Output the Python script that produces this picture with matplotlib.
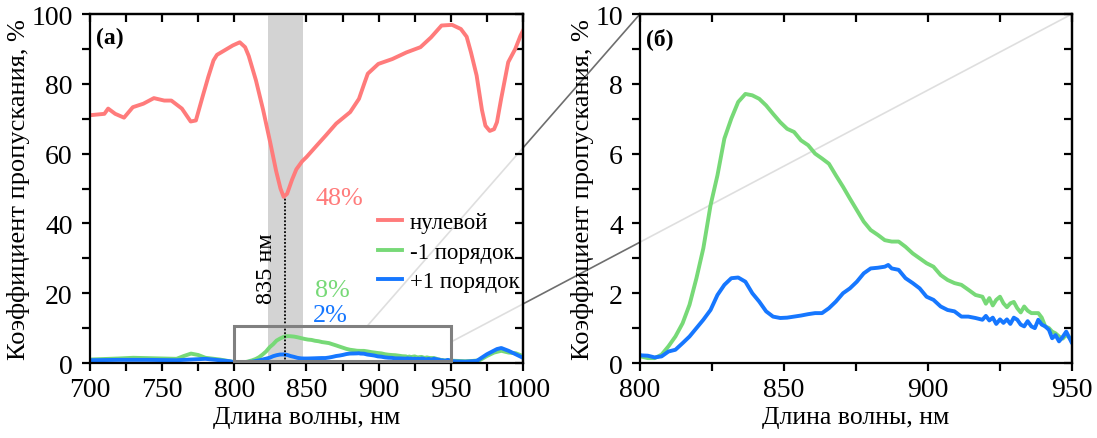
import matplotlib
matplotlib.use("Agg")
import matplotlib.pyplot as plt
from matplotlib.patches import Rectangle, ConnectionPatch
from matplotlib.ticker import MultipleLocator

plt.rcParams['font.family'] = ['Liberation Serif', 'DejaVu Serif']
plt.rcParams['mathtext.fontset'] = 'stix'

# ---------------- data ----------------
# zero order (нулевой)
wl_zero = [700, 705, 710, 712.6, 717.5, 723.6, 729.7, 737, 744.3, 751.5, 756.4, 763.7, 769.8,
           773.4, 778.3, 782, 785.6, 788, 792.9, 799, 803.8, 807.5, 810, 815, 820, 825, 829,
           832, 834.2, 836.6, 840, 843, 847, 850, 857.3, 863.4, 870.6, 880.3, 886.4, 890,
           892.5, 899.8, 909.5, 919.3, 929, 936.3, 943.6, 950.9, 957, 961, 964, 967.9, 971.6,
           974, 977, 980, 982, 984.9, 989.8, 994.7, 998.3, 1000]
t_zero = [71, 71.2, 71.4, 72.9, 71.4, 70.3, 73.3, 74.3, 75.9, 75.2, 75.2, 72.9, 69.2,
          69.5, 76.7, 82, 86.7, 88.3, 89.5, 91, 91.9, 90.5, 88, 81, 72.5, 63, 55,
          50, 47.6, 48.5, 52.5, 55.5, 57.8, 59, 62.4, 65.2, 68.6, 71.9, 75.7, 80,
          82.9, 85.7, 87.1, 89, 90.5, 93.3, 96.7, 96.9, 95.7, 93.5, 89, 82.4, 72.5,
          68, 66.5, 67, 69, 75.7, 86.2, 90, 93.8, 95.2]

# -1 order
wl_m1 = [700, 720, 730, 750, 760, 765, 770, 775, 780, 790, 797,
         800.2, 802.7, 805.1, 807.5, 809.9, 812.3, 814.8, 817.2, 819.6, 822, 824.5, 826.9,
         829.3, 831.7, 834.1, 836.6, 839, 841.4, 843.8, 846.2, 848.7, 851.1, 853.5, 855.9,
         858.4, 860.8, 863.2, 865.6, 868, 870.5, 872.9, 875.3, 877.7, 880.1, 882.6, 885,
         887.4, 889.8, 892.2, 894.7, 897.1, 899.5, 901.9, 904.4, 906.8, 909.2, 911.6, 914,
         916.5, 918.9, 920.1, 921.3, 922.5, 923.7, 925, 926.2, 927.4, 928.6, 929.8, 931,
         932.2, 933.4, 934.6, 935.9, 938.3, 939.5, 940.7, 942, 943.1, 944.3, 945.5, 946.8,
         948, 950, 955, 960, 965, 970, 975, 980, 985, 990, 995, 1000]
t_m1 = [1.0, 1.3, 1.5, 1.3, 1.2, 2.0, 2.7, 2.3, 1.5, 1.0, 0.5,
        0.19, 0.14, 0.14, 0.24, 0.48, 0.76, 1.14, 1.67, 2.43, 3.29, 4.52, 5.38,
        6.43, 7.0, 7.48, 7.71, 7.67, 7.57, 7.38, 7.14, 6.9, 6.71, 6.62, 6.38,
        6.24, 6.0, 5.86, 5.71, 5.38, 5.05, 4.71, 4.38, 4.05, 3.81, 3.67, 3.52,
        3.48, 3.48, 3.33, 3.14, 3.0, 2.86, 2.76, 2.52, 2.38, 2.29, 2.24, 2.1,
        1.95, 1.9, 1.7, 1.86, 1.65, 1.81, 1.9, 1.71, 1.6, 1.71, 1.75, 1.57,
        1.45, 1.62, 1.5, 1.43, 1.43, 1.3, 1.05, 1.0, 0.9, 0.85, 0.76, 0.7,
        0.81, 0.67, 0.6, 0.5, 0.6, 0.8, 2.0, 3.0, 3.5, 3.0, 2.8, 2.0]

# +1 order
wl_p1 = [700, 720, 740, 760, 770, 780, 790, 797,
         800.2, 802.7, 805.1, 807.5, 809.9, 812.3, 814.8, 817.2, 819.6, 822, 824.5, 826.9,
         829.3, 831.7, 834.1, 836.6, 839, 841.4, 843.8, 846.2, 848.7, 851.1, 853.5, 855.9,
         858.4, 860.8, 863.2, 865.6, 868, 870.5, 872.9, 875.3, 877.7, 880.1, 882.6, 885,
         886.2, 887.4, 889.8, 892.2, 894.7, 897.1, 899.5, 901.9, 904.4, 906.8, 909.2, 911.6,
         914, 916.5, 918.9, 920.1, 921.3, 922.5, 923.7, 925, 926.2, 927.4, 928.6, 929.8, 931,
         932.2, 933.4, 934.6, 935.9, 937.1, 938.3, 939.5, 940.7, 942, 943.1, 944.3, 945.5,
         946.8, 948, 950, 955, 960, 968, 975, 982, 985, 990, 995, 1000]
t_p1 = [0.8, 0.9, 0.9, 0.8, 1.0, 1.2, 0.8, 0.5,
        0.22, 0.21, 0.16, 0.19, 0.33, 0.38, 0.57, 0.76, 1.0, 1.24, 1.52, 1.95,
        2.24, 2.43, 2.45, 2.33, 2.0, 1.76, 1.48, 1.33, 1.29, 1.3, 1.33, 1.36,
        1.4, 1.43, 1.43, 1.57, 1.76, 2.0, 2.14, 2.33, 2.57, 2.71, 2.73, 2.76,
        2.81, 2.71, 2.67, 2.43, 2.29, 2.14, 1.9, 1.81, 1.62, 1.52, 1.48, 1.33,
        1.33, 1.29, 1.24, 1.35, 1.22, 1.3, 1.12, 1.25, 1.15, 1.25, 1.12, 1.3, 1.24,
        1.1, 1.05, 1.2, 1.05, 1.0, 1.24, 1.1, 1.05, 0.95, 0.71, 0.8, 0.62,
        0.75, 0.9, 0.57, 0.45, 0.4, 0.6, 2.5, 4.0, 4.3, 3.5, 2.5, 1.5]

series_labels = ['нулевой', '-1 порядок', '+1 порядок']
c_zero = '#FF7B7B'
c_m1 = '#77D977'
c_p1 = '#1677FF'

# ---------------- figure ----------------
fig = plt.figure(figsize=(10.97, 4.39), dpi=100)
fig.patch.set_facecolor('white')
ax1 = fig.add_axes([0.0820, 0.1708, 0.3947, 0.7950])
ax2 = fig.add_axes([0.5834, 0.1708, 0.3938, 0.7950])

FS_TICK = 20
FS_XLAB = 18.5
FS_YLAB = 19
lw = 2.8
TL = 5.8

for ax in (ax1, ax2):
    ax.set_facecolor((1, 1, 1, 0.78))
    for s in ax.spines.values():
        s.set_linewidth(1.6)
    ax.tick_params(which='both', direction='out', length=TL, width=1.6,
                   labelsize=FS_TICK, top=False, right=False)
    ax.tick_params(axis='y', pad=6.5)
    ax.tick_params(axis='x', pad=4.5)

# panel (a)
ax1.axvspan(823.3, 847.6, color='#D3D3D3', zorder=0.5, lw=0)
ax1.plot(wl_zero, t_zero, color=c_zero, lw=lw, label=series_labels[0], zorder=2)
ax1.plot(wl_m1, t_m1, color=c_m1, lw=lw, label=series_labels[1], zorder=2)
ax1.plot(wl_p1, t_p1, color=c_p1, lw=lw, label=series_labels[2], zorder=2.1)
ax1.plot([835, 835], [0, 47.4], color='black', lw=1.3, ls=(0, (1.0, 1.0)), zorder=3)
ax1.add_patch(Rectangle((800, 0.7), 150, 9.8, fill=False, edgecolor='#808080', lw=2.2, zorder=3))
ax1.set_xlim(700, 1000)
ax1.set_ylim(0, 100)
ax1.xaxis.set_major_locator(MultipleLocator(50))
ax1.xaxis.set_minor_locator(MultipleLocator(25))
ax1.yaxis.set_major_locator(MultipleLocator(20))
ax1.yaxis.set_minor_locator(MultipleLocator(10))
ax1.set_xlabel('Длина волны, нм', fontsize=FS_XLAB, labelpad=3)
ax1.set_ylabel('Коэффициент пропускания, %', fontsize=FS_YLAB, labelpad=1)
ax1.text(0.014, 0.963, '(а)', transform=ax1.transAxes, fontsize=17, fontweight='bold',
         ha='left', va='top')
ax1.text(822.4, 27.2, '835 нм', rotation=90, fontsize=17.5, ha='center', va='center')
ax1.text(873, 45.6, '48%', color=c_zero, fontsize=18.8, ha='center', va='baseline')
ax1.text(868, 19.2, '8%', color=c_m1, fontsize=18.8, ha='center', va='baseline')
ax1.text(866.7, 12.0, '2%', color=c_p1, fontsize=18.8, ha='center', va='baseline')
leg = ax1.legend(loc='center left', bbox_to_anchor=(0.665, 0.318), frameon=False,
                 fontsize=16.5, handlelength=1.05, handletextpad=0.35, labelspacing=0.36,
                 borderpad=0, borderaxespad=0)

# panel (b)
ax2.plot(wl_m1, t_m1, color=c_m1, lw=lw, zorder=2)
ax2.plot(wl_p1, t_p1, color=c_p1, lw=lw, zorder=2.1)
ax2.set_xlim(800, 950)
ax2.set_ylim(0, 10)
ax2.xaxis.set_major_locator(MultipleLocator(50))
ax2.xaxis.set_minor_locator(MultipleLocator(25))
ax2.yaxis.set_major_locator(MultipleLocator(2))
ax2.yaxis.set_minor_locator(MultipleLocator(1))
ax2.set_xlabel('Длина волны, нм', fontsize=FS_XLAB, labelpad=3)
ax2.set_ylabel('Коэффициент пропускания, %', fontsize=FS_YLAB, labelpad=1)
ax2.text(0.014, 0.963, '(б)', transform=ax2.transAxes, fontsize=17, fontweight='bold',
         ha='left', va='top')

# inward ticks on top and right
for ax, xmaj, xmin, ymaj, ymin in ((ax1, 50, 25, 20, 10), (ax2, 50, 25, 2, 1)):
    sx = ax.secondary_xaxis('top')
    sx.xaxis.set_major_locator(MultipleLocator(xmaj))
    sx.xaxis.set_minor_locator(MultipleLocator(xmin))
    sx.tick_params(which='both', direction='in', length=TL, width=1.6, labeltop=False)
    sx.spines['top'].set_linewidth(1.6)
    sy = ax.secondary_yaxis('right')
    sy.yaxis.set_major_locator(MultipleLocator(ymaj))
    sy.yaxis.set_minor_locator(MultipleLocator(ymin))
    sy.tick_params(which='both', direction='in', length=TL, width=1.6, labelright=False)
    sy.spines['right'].set_linewidth(1.6)

# zoom connector lines (drawn behind the semi-transparent axes faces)
con1 = ConnectionPatch(xyA=(891.9, 10.5), coordsA='data', axesA=ax1,
                       xyB=(800, 10), coordsB='data', axesB=ax2,
                       color='#6E6E6E', lw=1.2, zorder=-1)
con2 = ConnectionPatch(xyA=(950, 6.0), coordsA='data', axesA=ax1,
                       xyB=(950, 10), coordsB='data', axesB=ax2,
                       color='#6E6E6E', lw=1.2, zorder=-1)
for c in (con1, con2):
    c.set_annotation_clip(False)
    fig.add_artist(c)

fig.savefig('out.png', dpi=100, facecolor='white')
